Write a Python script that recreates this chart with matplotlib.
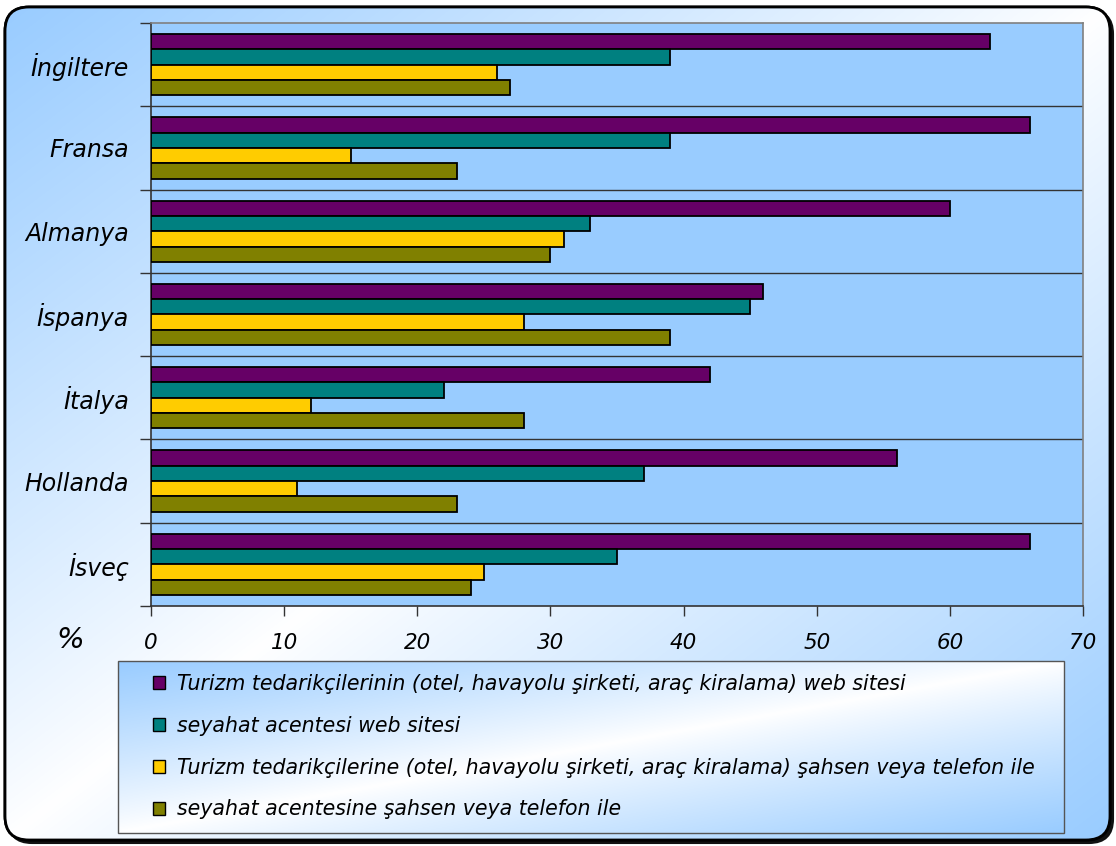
import numpy as np
import matplotlib
matplotlib.use("Agg")
import matplotlib.pyplot as plt
from matplotlib.patches import FancyBboxPatch, Rectangle, Patch

# ---- data -------------------------------------------------------------
countries = ["İngiltere", "Fransa", "Almanya", "İspanya", "İtalya", "Hollanda", "İsveç"]
series_names = [
    "Turizm tedarikçilerinin (otel, havayolu şirketi, araç kiralama) web sitesi",
    "seyahat acentesi web sitesi",
    "Turizm tedarikçilerine (otel, havayolu şirketi, araç kiralama) şahsen veya telefon ile",
    "seyahat acentesine şahsen veya telefon ile",
]
supplier_web = [63, 66, 60, 46, 42, 56, 66]
agency_web = [39, 39, 33, 45, 22, 37, 35]
supplier_phone = [26, 15, 31, 28, 12, 11, 25]
agency_phone = [27, 23, 30, 39, 28, 23, 24]
series_values = [supplier_web, agency_web, supplier_phone, agency_phone]
series_colors = ["#660066", "#008080", "#FFCC00", "#808000"]
x_ticks = [0, 10, 20, 30, 40, 50, 60, 70]

W, H = 1116, 846
BLUE = np.array([153, 204, 255]) / 255.0
WHITE = np.array([1.0, 1.0, 1.0])


def diagonal_gradient(w, h, power=0.9):
    """Blue in two opposite corners, fading to white along the other diagonal."""
    xs = np.linspace(0, 1, w)
    ys = np.linspace(0, 1, h)
    t = (xs[None, :] + ys[:, None]) / 2.0
    s = np.clip(np.abs(t - 0.5) * 2.0, 0, 1) ** power
    return WHITE[None, None, :] * (1 - s[..., None]) + BLUE[None, None, :] * s[..., None]


fig = plt.figure(figsize=(W / 100, H / 100), dpi=100)
fig.patch.set_facecolor("white")

# ---- background panel with rounded frame ------------------------------
bg = fig.add_axes([0, 0, 1, 1], zorder=-10)
bg.set_xlim(0, W)
bg.set_ylim(H, 0)
bg.axis("off")

fx0, fy0, fx1, fy1 = 5, 7, 1110, 840
shadow = FancyBboxPatch((fx0 + 3, fy0 + 3), fx1 - fx0, fy1 - fy0,
                        boxstyle="round,pad=0,rounding_size=24",
                        facecolor="#111111", edgecolor="#111111", lw=1.5, zorder=0)
bg.add_patch(shadow)
frame = FancyBboxPatch((fx0, fy0), fx1 - fx0, fy1 - fy0,
                       boxstyle="round,pad=0,rounding_size=24",
                       facecolor="white", edgecolor="black", lw=2.0, zorder=1)
bg.add_patch(frame)
im = bg.imshow(diagonal_gradient(400, 300), extent=[fx0, fx1, fy1, fy0],
               origin="upper", aspect="auto", zorder=2, interpolation="bilinear")
im.set_clip_path(frame)
edge = FancyBboxPatch((fx0, fy0), fx1 - fx0, fy1 - fy0,
                      boxstyle="round,pad=0,rounding_size=24",
                      facecolor="none", edgecolor="black", lw=2.0, zorder=3)
bg.add_patch(edge)

# legend box with its own gradient
lx0, ly0, lx1, ly1 = 118, 661, 1064, 833
bg.imshow(diagonal_gradient(300, 100), extent=[lx0, lx1, ly1, ly0],
          origin="upper", aspect="auto", zorder=4, interpolation="bilinear")
bg.add_patch(Rectangle((lx0, ly0), lx1 - lx0, ly1 - ly0, facecolor="none",
                       edgecolor="#555555", lw=1.0, zorder=5))
bg.set_xlim(0, W)
bg.set_ylim(H, 0)

# ---- main bar chart ----------------------------------------------------
ax_l, ax_r, ax_t, ax_b = 151, 1083, 23, 606
ax = fig.add_axes([ax_l / W, 1 - ax_b / H, (ax_r - ax_l) / W, (ax_b - ax_t) / H])
ax.set_facecolor("#99CCFF")

n = len(countries)
centers = np.arange(n) + 0.5
bar_h = 0.184
offsets = (np.arange(4) - 1.5) * bar_h
for vals, color, off, name in zip(series_values, series_colors, offsets, series_names):
    ax.barh(centers + off, vals, height=bar_h, color=color, edgecolor="black",
            linewidth=1.3, label=name, zorder=3)

for b in range(1, n):
    ax.axhline(b, color="#333333", lw=1.0, zorder=2)

ax.set_xlim(0, 70)
ax.set_ylim(n, 0)

ax.set_yticks(np.arange(n + 1))
ax.set_yticklabels([])
ax.tick_params(axis="y", which="major", length=8, width=1.0, color="#333333", direction="out")
ax.set_yticks(centers, minor=True)
ax.set_yticklabels(countries, minor=True, fontsize=17, style="italic", color="black")
ax.tick_params(axis="y", which="minor", length=0, pad=16)

ax.set_xticks(x_ticks)
ax.set_xticklabels([str(v) for v in x_ticks], fontsize=15.5, style="italic")
ax.tick_params(axis="x", which="major", length=7, width=1.0, color="#333333",
               direction="out", pad=12.5)

for side in ("left", "bottom"):
    ax.spines[side].set_color("#333333")
    ax.spines[side].set_linewidth(1.2)
for side in ("top", "right"):
    ax.spines[side].set_color("#808080")
    ax.spines[side].set_linewidth(1.2)

fig.text(70 / W, 1 - 640 / H, "%", fontsize=21, style="italic",
         ha="center", va="center")

# ---- legend ------------------------------------------------------------
handles = [Patch(facecolor=c, edgecolor="black", linewidth=1.0) for c in series_colors]
leg = fig.legend(handles, series_names, loc="upper left",
                 bbox_to_anchor=(153 / W, 1 - 674 / H), frameon=False,
                 prop={"size": 14.8, "style": "italic"},
                 handlelength=0.6, handleheight=0.6, handletextpad=0.55,
                 labelspacing=1.06, borderpad=0, borderaxespad=0)

fig.savefig("out.png", dpi=100)
